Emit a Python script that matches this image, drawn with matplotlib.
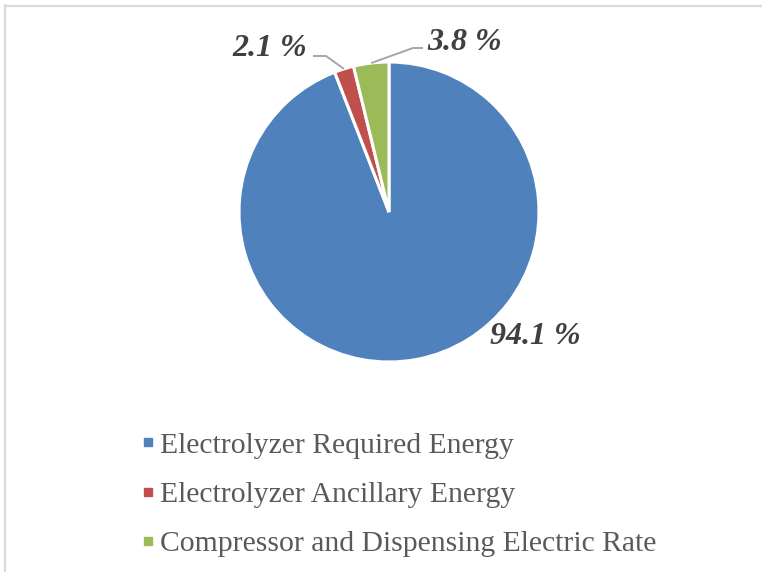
import numpy as np
import matplotlib.pyplot as plt
from matplotlib.lines import Line2D

# data
categories = ['Electrolyzer Required Energy',
              'Electrolyzer Ancillary Energy',
              'Compressor and Dispensing Electric Rate']
shares = [94.1, 2.1, 3.8]
colors = ['#4F81BD', '#C0504D', '#9BBB59']

plt.rcParams['font.family'] = ['Liberation Serif', 'DejaVu Serif']

W, H = 762, 572
cx, cy, r = 389, 212, 150  # pie centre / radius in pixels

def px(x, y):
    # pixel position -> data coords (pie radius = 1)
    return (x - cx) / r, (cy - y) / r

fig = plt.figure(figsize=(W / 100, H / 100), dpi=100)
ax = fig.add_axes([0, 0, 1, 1])

wedges, _ = ax.pie(shares, colors=colors, startangle=90, counterclock=False,
                   radius=1, center=(0, 0),
                   wedgeprops=dict(edgecolor='white', linewidth=2.2))
ax.set_aspect('auto')
ax.set_xlim(-cx / r, (W - cx) / r)
ax.set_ylim((cy - H) / r, cy / r)
ax.axis('off')

lab_kw = dict(fontsize=23, fontweight='bold', fontstyle='italic', color='#404040',
              ha='center', va='center')

def edge_point(w):
    a = np.deg2rad((w.theta1 + w.theta2) / 2)
    return np.cos(a), np.sin(a)

# big slice label
ax.text(*px(535, 337), f'{shares[0]} %', **lab_kw)

# small slices: label + leader line (wedge edge -> elbow -> label)
ax.text(*px(270, 48), f'{shares[1]} %', **lab_kw)
x0, y0 = edge_point(wedges[1])
e1, e2 = px(326, 56), px(313, 56)
ax.plot([x0, e1[0], e2[0]], [y0, e1[1], e2[1]], color='#A6A6A6', lw=1.4,
        solid_capstyle='butt')

ax.text(*px(465, 43), f'{shares[2]} %', **lab_kw)
x0, y0 = edge_point(wedges[2])
e1, e2 = px(413, 48), px(423, 48)
ax.plot([x0, e1[0], e2[0]], [y0, e1[1], e2[1]], color='#A6A6A6', lw=1.4,
        solid_capstyle='butt')

# legend
handles = [Line2D([], [], marker='s', linestyle='none', markersize=6,
                  markerfacecolor=c, markeredgecolor=c) for c in colors]
fig.legend(handles, categories, loc='upper left',
           bbox_to_anchor=(141 / W, 1 - 432 / H), frameon=False,
           fontsize=21.3, labelcolor='#595959', handlelength=0.45,
           handletextpad=0.2, labelspacing=0.76, borderaxespad=0,
           borderpad=0)

# light frame (top and left edges visible)
fig.add_artist(Line2D([5 / W, 5 / W], [0, 1 - 5 / H], transform=fig.transFigure,
                      color='#D9D9D9', lw=1.6))
fig.add_artist(Line2D([5 / W, 1], [1 - 6 / H, 1 - 6 / H], transform=fig.transFigure,
                      color='#D9D9D9', lw=1.6))

fig.savefig('out.png', dpi=100)
